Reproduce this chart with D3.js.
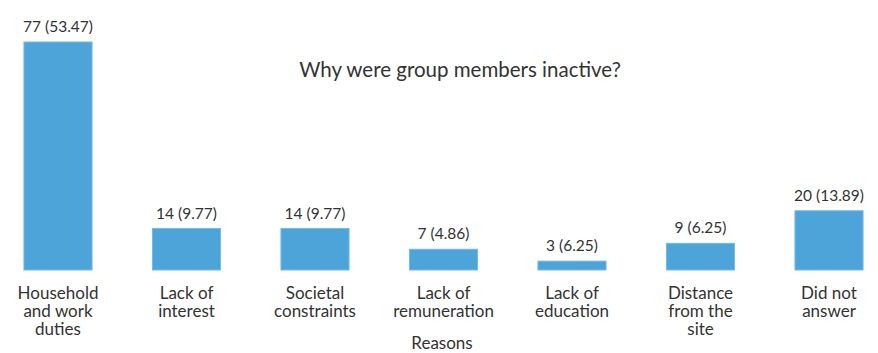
<!DOCTYPE html>
<meta charset="utf-8">
<style>
body { margin: 0; background: #fff; }
text { fill: #333; }
.cat { font: 17px Lato, sans-serif; }
.val { font: 15.5px Lato, sans-serif; }
.title { font: 20.5px Lato, sans-serif; }
</style>
<body>
<script src="https://d3js.org/d3.v7.min.js"></script>
<script>
var categories = ["Household and work duties", "Lack of interest", "Societal constraints",
  "Lack of remuneration", "Lack of education", "Distance from the site", "Did not answer"];
var catLines = [["Household", "and work", "duties"], ["Lack of", "interest"], ["Societal", "constraints"],
  ["Lack of", "remuneration"], ["Lack of", "education"], ["Distance", "from the", "site"], ["Did not", "answer"]];
var counts = [77, 14, 14, 7, 3, 9, 20];
var labels = ["77 (53.47)", "14 (9.77)", "14 (9.77)", "7 (4.86)", "3 (6.25)", "9 (6.25)", "20 (13.89)"];

var width = 878, height = 353, base = 270;

var svg = d3.select("body").append("svg")
    .attr("width", width)
    .attr("height", height);

var x = d3.scaleBand()
    .domain(categories)
    .range([-6.25, 893.25])
    .paddingInner(0.47)
    .paddingOuter(0.235);

var y = d3.scaleLinear()
    .domain([0, 77])
    .range([base, 42]);

svg.selectAll(".bar")
    .data(counts)
  .enter().append("rect")
    .attr("x", function(d, i) { return x(categories[i]); })
    .attr("y", function(d) { return y(d); })
    .attr("width", x.bandwidth())
    .attr("height", function(d) { return base - y(d); })
    .attr("fill", "#4ca4d9")
    .attr("stroke", "#74b9e4")
    .attr("stroke-width", 1);

svg.selectAll(".val")
    .data(counts)
  .enter().append("text")
    .attr("class", "val")
    .attr("x", function(d, i) { return x(categories[i]) + x.bandwidth() / 2; })
    .attr("y", function(d) { return y(d) - 10; })
    .attr("text-anchor", "middle")
    .text(function(d, i) { return labels[i]; });

var cat = svg.selectAll(".cat")
    .data(catLines)
  .enter().append("text")
    .attr("class", "cat")
    .attr("text-anchor", "middle")
    .attr("transform", function(d, i) { return "translate(" + (x(categories[i]) + x.bandwidth() / 2) + ",299)"; });

cat.selectAll("tspan")
    .data(function(d) { return d; })
  .enter().append("tspan")
    .attr("x", 0)
    .attr("y", function(d, j) { return j * 18; })
    .text(function(d) { return d; });

svg.append("text")
    .attr("class", "title")
    .attr("x", 460)
    .attr("y", 77)
    .attr("text-anchor", "middle")
    .text("Why were group members inactive?");

svg.append("text")
    .attr("class", "cat")
    .attr("x", 442)
    .attr("y", 349)
    .attr("text-anchor", "middle")
    .text("Reasons");
</script>
</body>
</html>
